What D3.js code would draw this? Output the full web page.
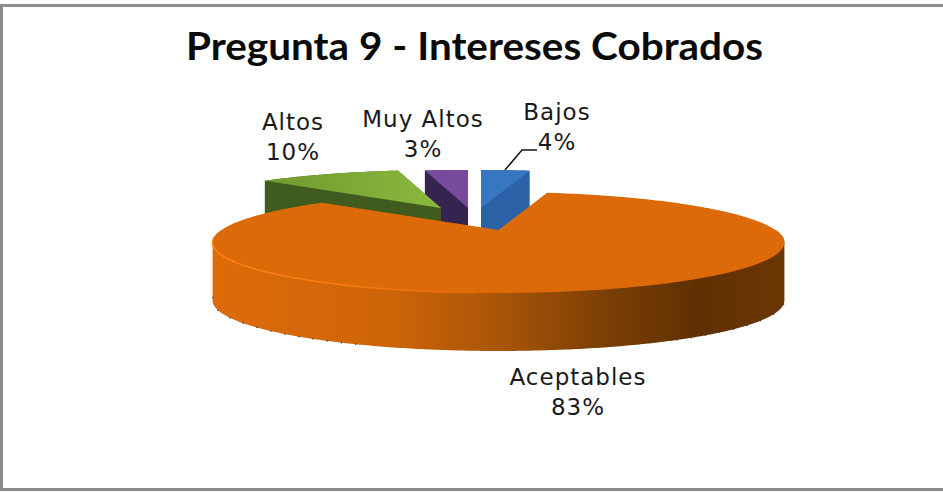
<html>
<head>
	<meta charset="utf-8">
	<title>Pregunta 9</title>
	<script src="https://cdn.jsdelivr.net/npm/d3@7"></script>
	<style>
		html, body {
			margin: 0;
			background: #fff;
		}
		svg {
			display: block;
		}
		.title {
			font-family: Lato, sans-serif;
			font-size: 38px;
			font-weight: 700;
			fill: #0a0a0a;
		}
		.label {
			font-family: "DejaVu Sans", sans-serif;
			font-size: 23px;
			letter-spacing: 1px;
			fill: #1a1a1a;
		}
	</style>
</head>
<body>
	<svg id="chart" width="943" height="492"></svg>
<script>

var titleText = "Pregunta 9 - Intereses Cobrados";
var categories = ["Bajos", "Aceptables", "Altos", "Muy Altos"];
var shares = [3.5, 83.2, 10.2, 3.1];

var colors = {
	"Bajos": { top: "#3777bf", wall: "#2b62a6" },
	"Aceptables": { top: "#dd6a08", wall: "url(#wallOrange)" },
	"Altos": { top: "url(#topGreen)", wall: "#3f5c1e" },
	"Muy Altos": { top: "#774a9b", wall: "#35244f" }
};

// Where each slice's tip lands, after the explode
var tips = {
	"Bajos": [481, 208],
	"Aceptables": [498.5, 230],
	"Altos": [441, 208],
	"Muy Altos": [468, 208]
};

// Label anchors
var labelPos = {
	"Bajos": [557, 120],
	"Aceptables": [578, 385],
	"Altos": [293, 130],
	"Muy Altos": [423, 127]
};

var rx = 277, ry = 47.4, persp = 0.2475, depth = 58;

var svg = d3.select("#chart");

//
// Gradients
//

var defs = svg.append("defs");

function addGradient(id, x1, x2, stops) {
	var g = defs.append("linearGradient")
		.attr("id", id)
		.attr("gradientUnits", "userSpaceOnUse")
		.attr("x1", x1).attr("x2", x2)
		.attr("y1", 0).attr("y2", 0);
	stops.forEach(function(s) {
		g.append("stop").attr("offset", s[0]).attr("stop-color", s[1]);
	});
}

addGradient("wallOrange", 213, 785, [
	[0, "#dd6b0a"], [0.3, "#cf6508"], [0.5, "#a95507"],
	[0.68, "#7c4005"], [0.85, "#5f3002"], [1, "#6b3703"]
]);
addGradient("topGreen", 270, 430, [[0, "#6f9a2e"], [1, "#8ab83e"]]);
addGradient("rimOrange", 213, 470, [[0, "#ff7f12"], [0.6, "#f87a10"], [1, "#dd6a08"]]);

//
// Frame and title
//

svg.append("rect")
	.attr("x", 1.5).attr("y", 5.5)
	.attr("width", 945).attr("height", 484)
	.attr("fill", "#fff")
	.attr("stroke", "#8c8c8c")
	.attr("stroke-width", 3);

svg.append("text")
	.attr("class", "title")
	.attr("x", 474.5)
	.attr("y", 60)
	.attr("text-anchor", "middle")
	.attr("textLength", 577)
	.attr("lengthAdjust", "spacingAndGlyphs")
	.text(titleText);

//
// Pie geometry: angles from d3.pie, flattened with a small perspective
//

var pie = d3.pie().sort(null).value(function(d) { return d; });
var slices = pie(shares).map(function(s, i) {
	return { name: categories[i], value: s.value, a0: s.startAngle, a1: s.endAngle };
});

function project(a, tip) {
	var den = 1 + persp * Math.cos(a);
	return [tip[0] + rx * Math.sin(a) / den, tip[1] - ry * Math.cos(a) / den];
}

function arcPoints(a0, a1, tip) {
	var n = Math.ceil((a1 - a0) / 0.01);
	return d3.range(n + 1).map(function(i) {
		return project(a0 + (a1 - a0) * i / n, tip);
	});
}

function down(p) {
	return [p[0], p[1] + depth];
}

var line = d3.line();

// Draw back to front
var order = ["Bajos", "Muy Altos", "Altos", "Aceptables"];

order.forEach(function(name) {
	var s = slices.find(function(d) { return d.name === name; });
	var tip = tips[name];
	var rim = arcPoints(s.a0, s.a1, tip);
	var g = svg.append("g").attr("class", "slice");

	// Only the front of the big slice shows a wall
	var wallPts;
	if (name === "Aceptables") {
		var front = arcPoints(Math.PI / 2, Math.PI * 1.5, tip);
		wallPts = front.concat(front.map(down));
	} else {
		var face = rim.concat([tip]);
		wallPts = face.concat(face.map(down));
	}
	g.append("path")
		.attr("d", line(d3.polygonHull(wallPts)) + "Z")
		.attr("fill", colors[name].wall);

	g.append("path")
		.attr("d", line(rim.concat([tip])) + "Z")
		.attr("fill", colors[name].top);

	if (name === "Aceptables") {
		// Bright rim on the left of the top face
		g.append("path")
			.attr("d", line(arcPoints(Math.PI * 1.02, Math.PI * 1.46, tip)))
			.attr("fill", "none")
			.attr("stroke", "url(#rimOrange)")
			.attr("stroke-width", 1.5);

		// Specks along the bottom edge
		g.append("path")
			.attr("d", line(arcPoints(Math.PI * 1.13, Math.PI * 1.44, tip).map(down)))
			.attr("fill", "none")
			.attr("stroke", "#3a3a3a")
			.attr("stroke-width", 1.3)
			.attr("stroke-dasharray", "1.3,13");
		g.append("path")
			.attr("d", line(arcPoints(Math.PI * 0.6, Math.PI * 0.84, tip).map(down)))
			.attr("fill", "none")
			.attr("stroke", "#3a3a3a")
			.attr("stroke-width", 1.3)
			.attr("stroke-dasharray", "1.3,13");
	}
});

//
// Labels
//

slices.forEach(function(s) {
	var pos = labelPos[s.name];
	var t = svg.append("text")
		.attr("class", "label")
		.attr("text-anchor", "middle");
	t.append("tspan").attr("x", pos[0]).attr("y", pos[1]).text(s.name);
	t.append("tspan").attr("x", pos[0]).attr("y", pos[1] + 30).text(Math.round(s.value) + "%");
});

// Leader line for Bajos
svg.append("path")
	.attr("d", line([[505, 170], [522, 150], [537, 150]]))
	.attr("fill", "none")
	.attr("stroke", "#111")
	.attr("stroke-width", 1.5);

</script>
</body>
</html>
